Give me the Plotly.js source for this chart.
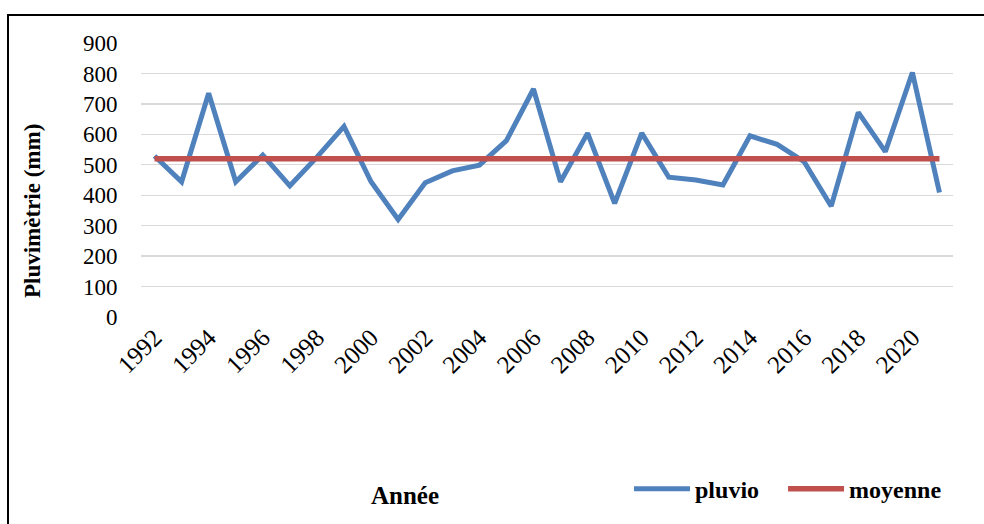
<!DOCTYPE html>
<html>
<head>
<meta charset="utf-8">
<script src="https://cdn.plot.ly/plotly-3.0.1.min.js"></script>
<style>
html,body{margin:0;padding:0;overflow:hidden;background:#fff;}
#chart{width:984px;height:524px;}
</style>
</head>
<body>
<div id="chart"></div>
<script>
const years = [1992,1993,1994,1995,1996,1997,1998,1999,2000,2001,2002,2003,2004,2005,2006,2007,2008,2009,2010,2011,2012,2013,2014,2015,2016,2017,2018,2019,2020,2021];
const pluvio = [529,444,735,444,532,431,525,626,444,320,441,480,499,579,749,444,604,373,604,459,450,434,595,567,510,364,672,543,803,409];
const moyenne = [520,520,520,520,520,520,520,520,520,520,520,520,520,520,520,520,520,520,520,520,520,520,520,520,520,520,520,520,520,520];
const tickYears = [1992,1994,1996,1998,2000,2002,2004,2006,2008,2010,2012,2014,2016,2018,2020];
const tickLabels = ["1992","1994","1996","1998","2000","2002","2004","2006","2008","2010","2012","2014","2016","2018","2020"];
const yTicks = [0,100,200,300,400,500,600,700,800,900];
const seriesNames = ["pluvio","moyenne"];
const yTitle = "Pluvimètrie (mm)";
const xTitle = "Année";

const SERIF = 'Liberation Serif, serif';

const traces = [
  {x: years, y: pluvio, name: seriesNames[0], type: 'scatter', mode: 'lines',
   line: {color: '#4f81bd', width: 5}, legend: 'legend'},
  {x: years, y: moyenne, name: seriesNames[1], type: 'scatter', mode: 'lines',
   line: {color: '#c0504d', width: 5.5}, legend: 'legend2'}
];

const legendStyle = {
  orientation: 'h', xanchor: 'left', y: -0.628, yanchor: 'middle',
  font: {family: SERIF, size: 24, color: '#000', weight: 'bold'},
  itemwidth: 56,
  bgcolor: 'rgba(0,0,0,0)', borderwidth: 0
};

const layout = {
  width: 984, height: 524,
  margin: {l: 141, r: 31, t: 43, b: 207, autoexpand: false},
  paper_bgcolor: '#fff', plot_bgcolor: '#fff',
  font: {family: SERIF, color: '#000'},
  showlegend: true,
  xaxis: {
    range: [1991.5, 2021.5],
    tickmode: 'array', tickvals: tickYears, ticktext: tickLabels,
    tickangle: -45,
    tickfont: {family: SERIF, size: 25, color: '#000'},
    showgrid: false, zeroline: false, showline: false,
    ticks: '', ticklen: 0
  },
  yaxis: {
    range: [0, 900],
    tickmode: 'array', tickvals: yTicks,
    tickfont: {family: SERIF, size: 23, color: '#000'},
    showgrid: true, gridcolor: '#d9d9d9', gridwidth: 1.3,
    zeroline: false, showline: false,
    ticks: 'outside', ticklen: 18, tickcolor: 'rgba(0,0,0,0)'
  },
  legend: Object.assign({}, legendStyle, {x: 0.601}),
  legend2: Object.assign({}, legendStyle, {x: 0.7907}),
  annotations: [
    {text: '<b>' + yTitle + '</b>', xref: 'paper', yref: 'paper',
     x: (33 - 141) / 812, y: (317 - 211) / 274, showarrow: false, textangle: -90,
     xanchor: 'center', yanchor: 'middle',
     font: {family: SERIF, size: 23, color: '#000'}},
    {text: '<b>' + xTitle + '</b>', xref: 'paper', yref: 'paper',
     x: (405 - 141) / 812, y: (317 - 495) / 274, showarrow: false,
     xanchor: 'center', yanchor: 'middle',
     font: {family: SERIF, size: 25, color: '#000'}}
  ],
  shapes: [
    {type: 'rect', xref: 'paper', yref: 'paper',
     x0: (8 - 141) / 812, x1: 1.3, y0: -1.2, y1: (317 - 15) / 274,
     line: {color: '#000', width: 2}, fillcolor: 'rgba(0,0,0,0)', layer: 'below'}
  ]
};

Plotly.newPlot('chart', traces, layout, {displayModeBar: false, staticPlot: true});
</script>
</body>
</html>
